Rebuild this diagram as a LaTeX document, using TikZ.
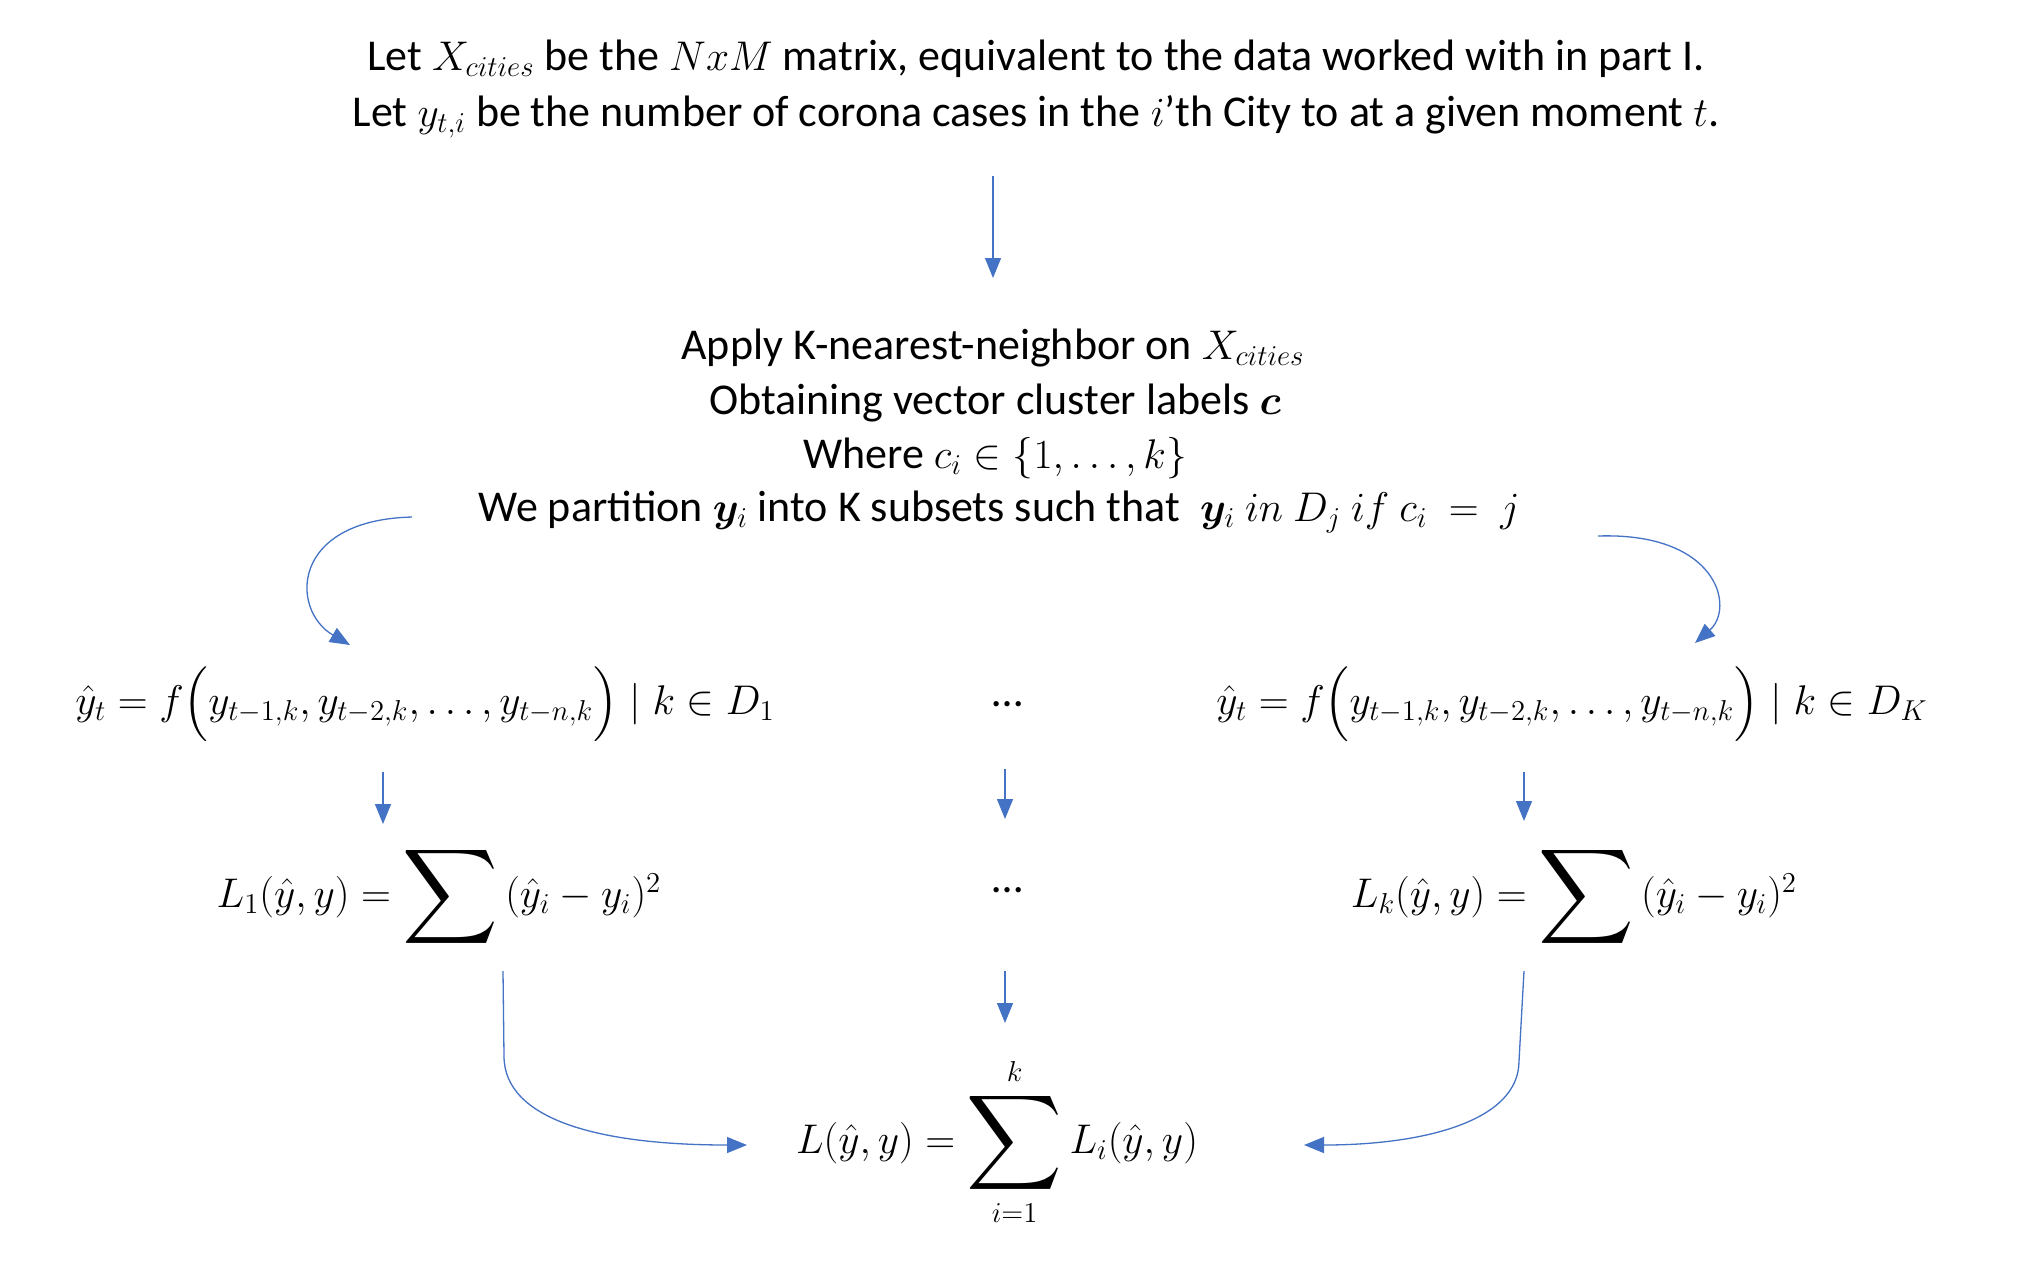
\documentclass[tikz,border=0pt]{standalone}
\usepackage{fontspec}
\setmainfont{Carlito}
\usepackage{amsmath,bm}
\usetikzlibrary{arrows.meta}
\definecolor{flowblue}{RGB}{68,114,196}
\newcommand{\bigsum}{\mathop{\vcenter{\hbox{\scalebox{1.6}{$\displaystyle\sum$}}}}}
\tikzset{
  txt/.style={inner sep=0pt,outer sep=0pt,text=black,font=\fontsize{22}{28}\selectfont},
  flow/.style={draw=flowblue,line width=0.65pt,-{Triangle[length=10pt,width=8pt]}}
}
\begin{document}
\begin{tikzpicture}[x=.5pt,y=-.5pt]
\path[use as bounding box] (0,0) rectangle (2044,1260);
\path[fill=white,draw=none] (0,0) rectangle (2044,1260);
% data description
\node[txt,align=center] (data) at (1036,89) {Let $X_{cities}$ be the $NxM$ matrix, equivalent to the data worked with in part I.\\Let $y_{t,i}$ be the number of corona cases in the $i$'th City to at a given moment $t$.};
% clustering step
\node[txt] (knn1) at (993,348) {Apply K-nearest-neighbor on $X_{cities}$};
\node[txt] (knn2) at (995,403) {Obtaining vector cluster labels $\bm{c}$};
\node[txt] (knn3) at (995,458) {Where $c_i \in \{1, \dots, k\}$};
\node[txt] (knn4) at (999,512) {We partition $\bm{y}_i$ into K subsets such that \ $\bm{y}_i\ in\ D_j\ if\ c_i\ =\ j$};
% per-cluster models
\node[txt] (pred1) at (425,704) {$\hat{y}_t = f\Big(y_{t-1,k}, y_{t-2,k}, \dots, y_{t-n,k}\Big) \mid k \in D_1$};
\node[txt] (predDots) at (1008,704) {…};
\node[txt] (predK) at (1572,704) {$\hat{y}_t = f\Big(y_{t-1,k}, y_{t-2,k}, \dots, y_{t-n,k}\Big) \mid k \in D_K$};
% per-cluster losses
\node[txt] (loss1) at (439,897) {$L_1(\hat{y},y) = \bigsum\, (\hat{y}_i - y_i)^2$};
\node[txt] (lossDots) at (1008,890) {…};
\node[txt] (lossK) at (1574,897) {$L_k(\hat{y},y) = \bigsum\, (\hat{y}_i - y_i)^2$};
% total loss
\node[txt] (total) at (997,1142) {$L(\hat{y},y) = \bigsum\limits_{i=1}^{k} L_i(\hat{y},y)$};
% connectors
\draw[flow] ([yshift=-43.5pt]data.center -| knn1.center) -- ([yshift=35pt]knn1.center);
\draw[flow] ([xshift=-293.5pt,yshift=-2.5pt]knn4.center) .. controls +(-122,3) and +(-60,-35) .. ([xshift=-37.5pt,yshift=29.5pt]pred1.center);
\draw[flow] ([xshift=299.5pt,yshift=-12pt]knn4.center) .. controls +(120,-4) and +(40,-35) .. ([xshift=61.5pt,yshift=30.5pt]predK.center);
\draw[flow] ([xshift=-21pt,yshift=-34pt]pred1.center) -- ([xshift=-28pt,yshift=36.5pt]loss1.center);
\draw[flow] ([xshift=-1.5pt,yshift=-32.5pt]predDots.center) -- ([xshift=-1.5pt,yshift=35.5pt]lossDots.center);
\draw[flow] ([xshift=-24pt,yshift=-34pt]predK.center) -- ([xshift=-25pt,yshift=38pt]lossK.center);
\draw[flow] ([xshift=-1.5pt,yshift=-40.5pt]lossDots.center) -- ([xshift=4pt,yshift=59.5pt]total.center);
\draw[flow] ([xshift=32pt,yshift=-37pt]loss1.center) -- ++(1,85) .. controls +(0,64) and +(-147,0) .. ([xshift=-125pt,yshift=-1.5pt]total.center);
\draw[flow] ([xshift=-25pt,yshift=-37pt]lossK.center) -- ++(-5,90) .. controls +(0,60) and +(120,0) .. ([xshift=153.5pt,yshift=-1.5pt]total.center);
\end{tikzpicture}
\end{document}
